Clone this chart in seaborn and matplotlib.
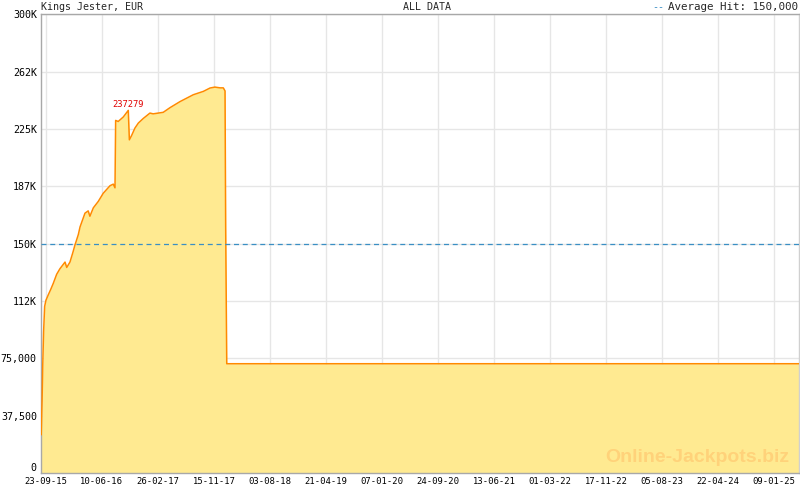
import matplotlib
matplotlib.use("Agg")
import matplotlib.pyplot as plt
import matplotlib.dates as mdates
import matplotlib.transforms as mtransforms
import numpy as np
import pandas as pd
import seaborn as sns

# ---- data ----
dates = ["2015-09-01", "2015-09-05", "2015-09-08", "2015-09-12", "2015-09-17",
         "2015-09-23", "2015-10-04", "2015-10-15", "2015-10-27", "2015-11-12",
         "2015-11-27", "2015-12-21", "2015-12-29", "2016-01-13", "2016-01-26",
         "2016-02-05", "2016-02-21", "2016-02-29", "2016-03-23", "2016-04-07",
         "2016-04-15", "2016-05-01", "2016-05-24", "2016-06-16", "2016-07-18",
         "2016-08-02", "2016-08-10", "2016-08-13", "2016-08-25", "2016-09-18",
         "2016-10-11", "2016-10-16", "2016-10-27", "2016-11-11", "2016-11-27",
         "2016-12-20", "2017-01-20", "2017-02-04", "2017-03-23", "2017-04-23",
         "2017-06-09", "2017-08-10", "2017-09-26", "2017-10-27", "2017-11-19",
         "2017-12-13", "2017-12-28", "2018-01-05", "2018-01-08", "2018-01-13",
         "2025-05-03"]
values = [25000, 47000, 70000, 92000, 109000,
          113000, 116600, 120000, 124000, 130000,
          133600, 138000, 134500, 138000, 144000,
          149000, 156000, 161000, 170000, 171500,
          168000, 173500, 177700, 183000, 188000,
          189000, 186600, 230700, 230000, 233000,
          237279, 218000, 221000, 225700, 229000,
          232000, 235500, 235000, 236000, 239000,
          243000, 247500, 249700, 251900, 252500,
          252000, 252000, 250000, 161000, 71500,
          71500]

peak_date = "2016-10-11"
peak_value = 237279
average_hit = 150000

x_tick_labels = ["23-09-15", "10-06-16", "26-02-17", "15-11-17", "03-08-18",
                 "21-04-19", "07-01-20", "24-09-20", "13-06-21", "01-03-22",
                 "17-11-22", "05-08-23", "22-04-24", "09-01-25"]
y_ticks = [0, 37500, 75000, 112500, 150000, 187500, 225000, 262500, 300000]
y_tick_labels = ["0", "37,500", "75,000", "112K", "150K", "187K", "225K", "262K", "300K"]

title_left = "Kings Jester, EUR"
title_center = "ALL DATA"
legend_text = "Average Hit: 150,000"
watermark = "Online-Jackpots.biz"

# ---- plot ----
sns.set_style("white")
plt.rcParams['font.family'] = ['DejaVu Sans Mono', 'DejaVu Sans']

df = pd.DataFrame({"date": pd.to_datetime(dates), "value": values})

fig = plt.figure(figsize=(8, 4.9), dpi=100)
ax = fig.add_axes([41 / 800, 1 - 473 / 490, 758 / 800, (473 - 14.5) / 490])

FILL = "#FFEA91"
LINE = "#FF8A00"
GRID = "#E6E6E6"
SPINE = "#A8A8A8"
AVG = "#3A8FC4"

ax.fill_between(df["date"], df["value"], 0, color=FILL, linewidth=0, zorder=1)
sns.lineplot(data=df, x="date", y="value", ax=ax, color=LINE, linewidth=1.1, zorder=3)

ax.axhline(average_hit, color=AVG, linestyle=(0, (4, 3)), linewidth=0.9, zorder=4)

x_tick_dates = pd.to_datetime(x_tick_labels, format="%d-%m-%y")
major = mdates.date2num(x_tick_dates)
step = np.diff(major).mean() / 6
x0 = mdates.date2num(pd.Timestamp("2015-08-31"))
x1 = mdates.date2num(pd.Timestamp("2025-05-04"))
minor = np.arange(major[0], x1, step)
minor = np.concatenate([minor, np.arange(major[0] - step, x0, -step)])

ax.set_xlim(x0, x1)
ax.set_ylim(0, 300000)
ax.set_xticks(major)
ax.set_xticklabels(x_tick_labels)
ax.set_xticks(minor, minor=True)
ax.set_yticks(y_ticks)
ax.set_yticklabels(y_tick_labels)

ax.grid(True, which="major", color=GRID, linewidth=1, zorder=0)
ax.set_axisbelow(True)
ax.set_xlabel("")
ax.set_ylabel("")

ax.tick_params(axis="x", which="major", direction="in", length=6, width=1,
               color=SPINE, labelsize=6.4, pad=3, labelcolor="#000000")
ax.tick_params(axis="x", which="minor", direction="in", length=3, width=1, color=SPINE)
ax.tick_params(axis="y", which="major", length=0, labelsize=7.2, pad=3, labelcolor="#000000")
# lift the "0" label so it sits just above the x labels, as in the reference
ylabels = ax.get_yticklabels()
ylabels[0].set_verticalalignment("bottom")
ylabels[0].set_transform(ylabels[0].get_transform() +
                         mtransforms.ScaledTranslation(0, 0.0, fig.dpi_scale_trans))

for s in ax.spines.values():
    s.set_color(SPINE)
    s.set_linewidth(1)
    s.set_visible(True)
ax.spines["right"].set_color("#D0D0D0")

# peak label
ax.text(pd.Timestamp(peak_date), peak_value + 800, str(peak_value), color="#E00000",
        fontsize=6.3, ha="center", va="bottom", zorder=5)

# watermark
ax.text(0.987, 0.033, watermark, transform=ax.transAxes, ha="right", va="center",
        fontsize=14, fontweight="bold", family="Liberation Sans", color="#FFD27A", zorder=2)

# header texts
fig.text(41 / 800, 1 - 7 / 490, title_left, fontsize=7.2, ha="left", va="center")
fig.text(427 / 800, 1 - 7 / 490, title_center, fontsize=7.2, ha="center", va="center")
fig.text(798 / 800, 1 - 7 / 490, legend_text, fontsize=7.8, ha="right", va="center")
fig.text(652 / 800, 1 - 7 / 490, "--", fontsize=7.2, ha="left", va="center", color=AVG)

fig.savefig("out.png", dpi=100)
